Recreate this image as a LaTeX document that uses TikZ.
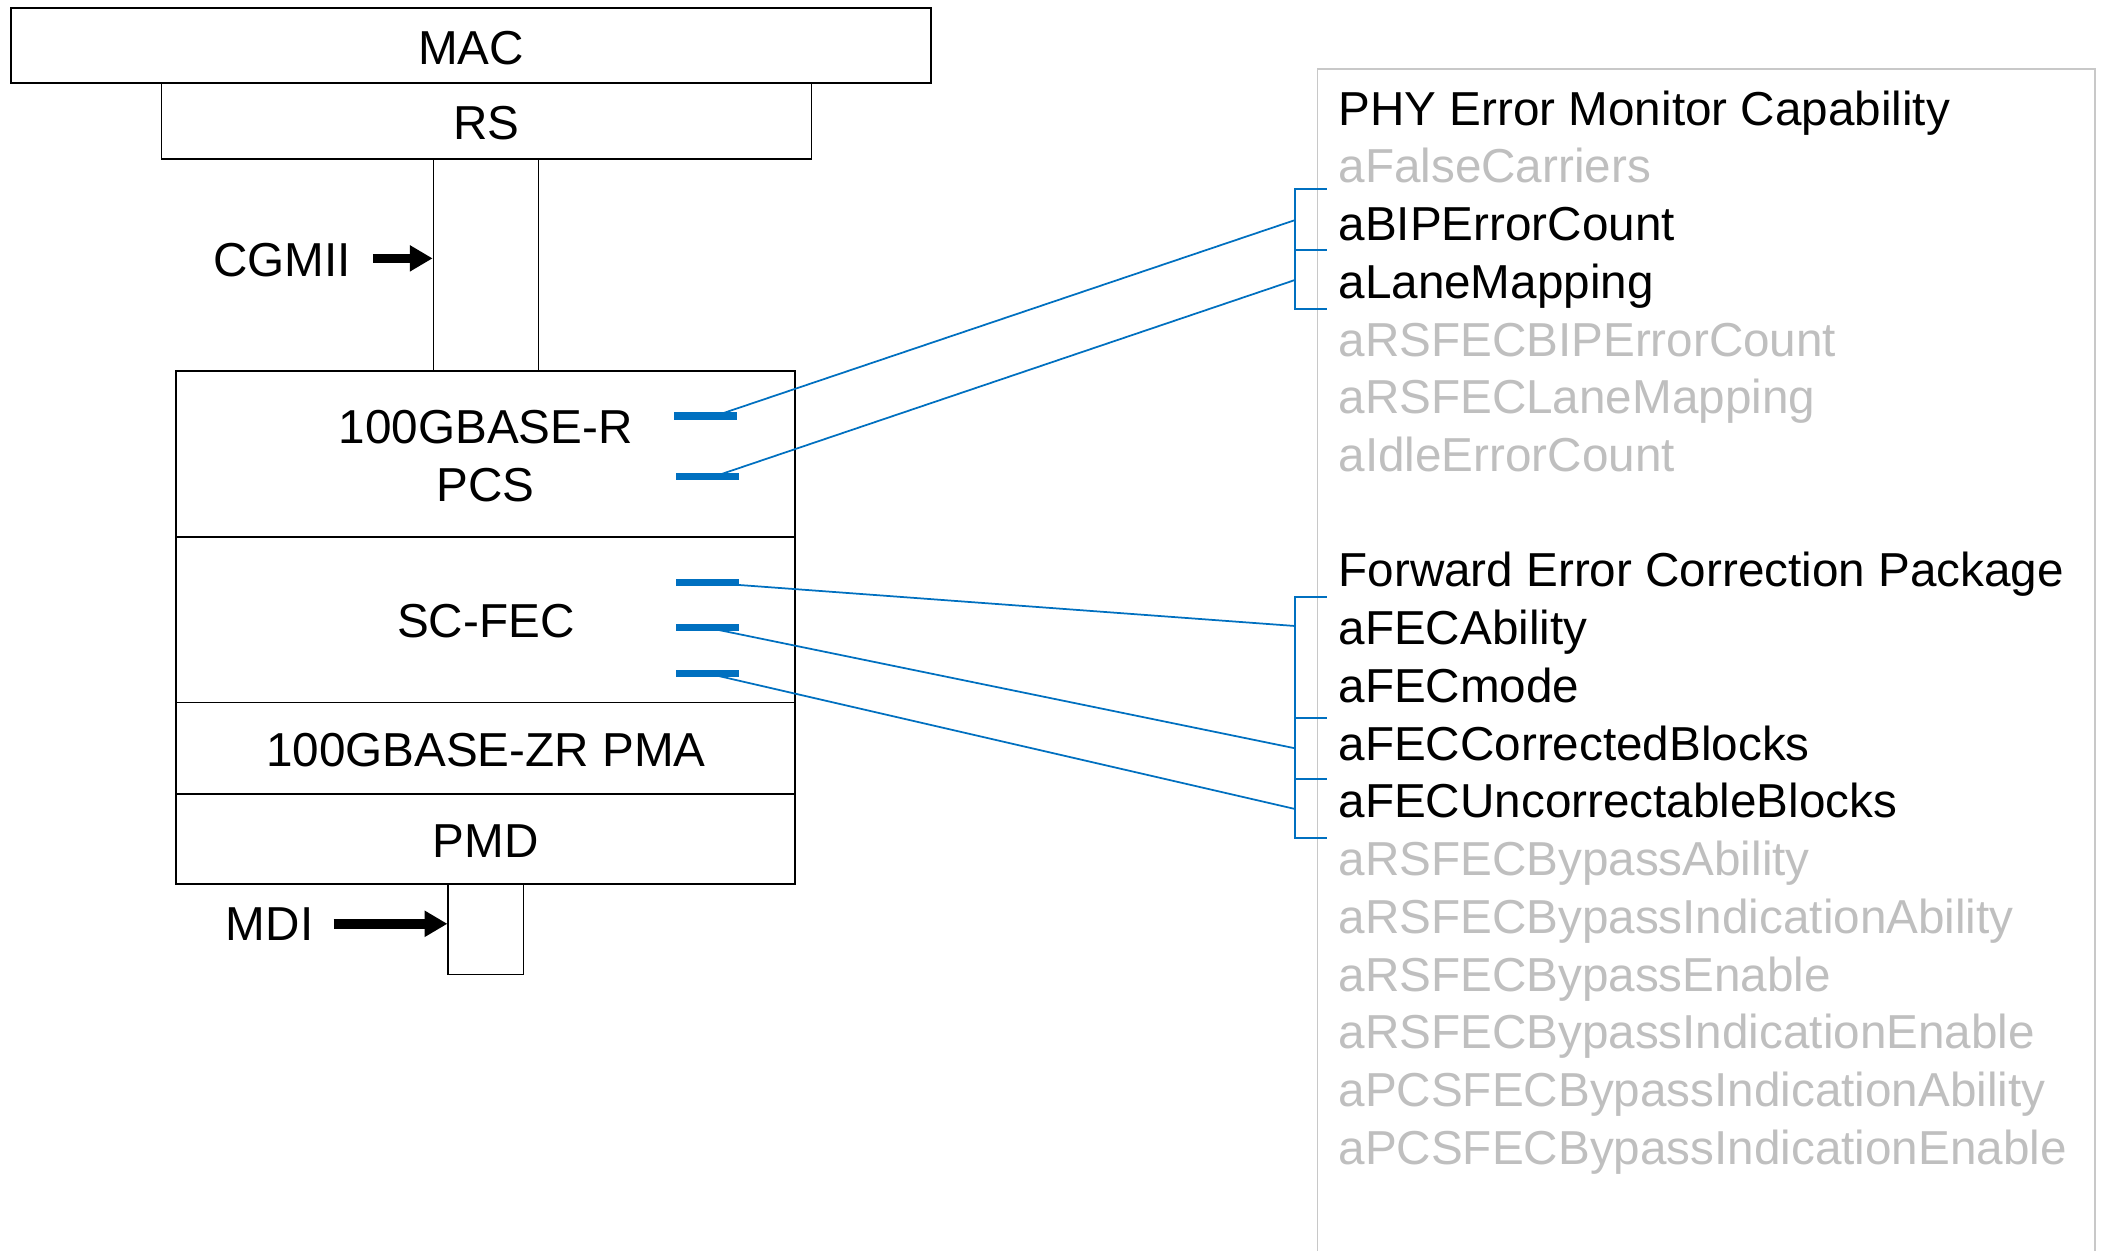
\documentclass[tikz,border=0pt]{standalone}
\usepackage{fontspec}
\setmainfont{Liberation Sans}
\usetikzlibrary{arrows.meta,calc}
\definecolor{ieeeblue}{RGB}{0,112,192}
\definecolor{lightgraytext}{RGB}{191,191,191}
\definecolor{panelgray}{RGB}{200,200,200}
\newcommand{\dn}[1]{\raisebox{-1.4pt}[\height][\depth]{#1}}
\begin{document}
\begin{tikzpicture}[x=1pt,y=-1pt,
  every node/.style={font=\fontsize{35.4}{43}\selectfont, inner sep=0pt},
  layer/.style={draw=black, line width=1.4pt, rectangle, align=center},
  channel/.style={draw=black, line width=1pt, rectangle},
  bmark/.style={fill=ieeeblue, rectangle, minimum width=47pt, minimum height=5.5pt},
  link/.style={draw=ieeeblue, line width=1.3pt},
  brace/.style={draw=ieeeblue, line width=1.3pt},
  bigarrow/.style={line width=7pt, -{Triangle[length=17pt,width=18.5pt]}},
  item/.style={anchor=base west, text=black},
  dim/.style={anchor=base west, text=lightgraytext}
]
\useasboundingbox (0,0) rectangle (1568,929);
\fill[white] (0,0) rectangle (1568,929);

% protocol stack
\node[layer, minimum width=684pt, minimum height=56pt] (mac) at (350,34) {\dn{MAC}};
\node[layer, minimum width=483pt, minimum height=56pt] (rs) at (361.5,90) {\dn{RS}};
\node[channel, minimum width=78pt, minimum height=158pt] (cgmii) at (361,197) {};
\node[layer, minimum width=460pt, minimum height=123pt] (pcs) at (361,337.5) {\dn{100GBASE-R}\\\dn{PCS}};
\node[layer, minimum width=460pt, minimum height=123pt] (fec) at (361,460.5) {\dn{SC-FEC}};
\node[layer, minimum width=460pt, minimum height=68pt] (pma) at (361,556) {\dn{100GBASE-ZR PMA}};
\node[layer, minimum width=460pt, minimum height=67pt] (pmd) at (361,623.5) {\dn{PMD}};
\node[channel, minimum width=56pt, minimum height=67pt] (mdi) at (361,690.5) {};

\node[anchor=east] (cgmiilbl) at (261,193) {CGMII};
\draw[bigarrow] ($(cgmiilbl.east)+(16,-1)$) -- ($(cgmiilbl.east -| cgmii.west)+(0,-1)$);
\node[anchor=east] (mdilbl) at (233,687) {MDI};
\draw[bigarrow] ($(mdilbl.east)+(15,-0.5)$) -- ($(mdilbl.east -| mdi.west)+(0,-0.5)$);

% blue marks
\node[bmark] (m1) at (524.5,309) {};
\node[bmark] (m2) at (526,354) {};
\node[bmark] (m3) at (526,433) {};
\node[bmark] (m4) at (526,466.5) {};
\node[bmark] (m5) at (526,500.5) {};

% right panel
\draw[panelgray, line width=1.3pt] (979,935) -- (979,51) -- (1557,51) -- (1557,935);

\foreach \i/\t/\s in {0/PHY Error Monitor Capability/item,
  1/aFalseCarriers/dim,
  2/aBIPErrorCount/item,
  3/aLaneMapping/item,
  4/aRSFECBIPErrorCount/dim,
  5/aRSFECLaneMapping/dim,
  6/aIdleErrorCount/dim,
  8/Forward Error Correction Package/item,
  9/aFECAbility/item,
  10/aFECmode/item,
  11/aFECCorrectedBlocks/item,
  12/aFECUncorrectableBlocks/item,
  13/aRSFECBypassAbility/dim,
  14/aRSFECBypassIndicationAbility/dim,
  15/aRSFECBypassEnable/dim,
  16/aRSFECBypassIndicationEnable/dim,
  17/aPCSFECBypassIndicationAbility/dim,
  18/aPCSFECBypassIndicationEnable/dim}
  \node[\s] (l\i) at (994.5,{93+42.9*\i}) {\t};

% brackets
\coordinate (ba) at (962.5,140.7);
\coordinate (bb) at (962.5,185.8);
\coordinate (bc) at (962.5,229.9);
\coordinate (b1) at (962.5,163.5);
\coordinate (b2) at (962.5,208);
\draw[brace] ($(ba)+(23.5,0)$) -- (ba) -- (bc) -- ($(bc)+(23.5,0)$);
\draw[brace] (bb) -- ($(bb)+(23.5,0)$);

\coordinate (bd) at (962.5,443.9);
\coordinate (be) at (962.5,533.3);
\coordinate (bf) at (962.5,578.9);
\coordinate (bg) at (962.5,623);
\coordinate (b3) at (962.5,465.2);
\coordinate (b4) at (962.5,556.1);
\coordinate (b5) at (962.5,601.2);
\draw[brace] ($(bd)+(23.5,0)$) -- (bd) -- (bg) -- ($(bg)+(23.5,0)$);
\draw[brace] (be) -- ($(be)+(23.5,0)$);
\draw[brace] (bf) -- ($(bf)+(23.5,0)$);

% connectors
\draw[link] ($(m1.center)+(7,0)$) -- (b1);
\draw[link] ($(m2.center)+(5,0)$) -- (b2);
\draw[link] (m3.center) -- (b3);
\draw[link] (m4.center) -- (b4);
\draw[link] (m5.center) -- (b5);
\end{tikzpicture}
\end{document}
